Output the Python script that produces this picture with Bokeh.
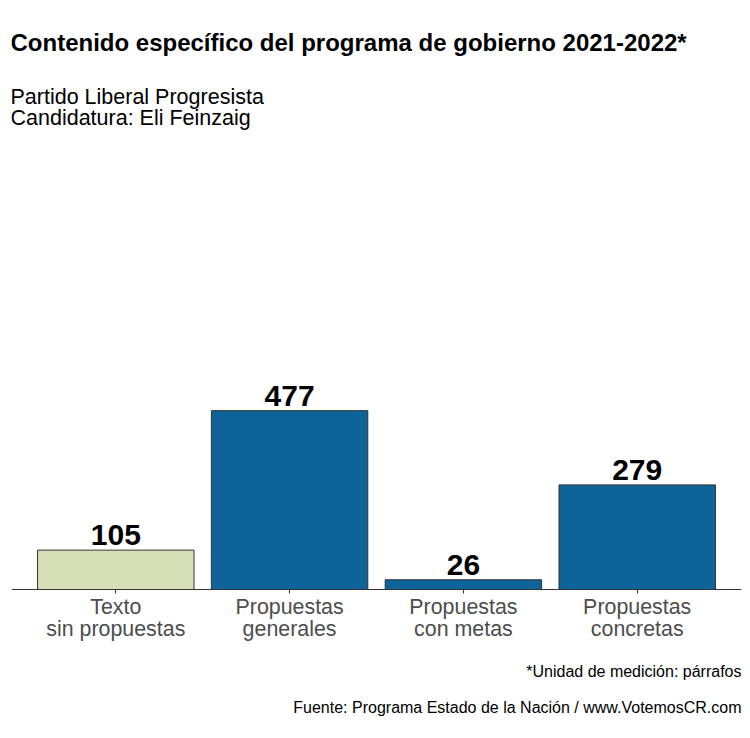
from bokeh.plotting import figure
from bokeh.models import ColumnDataSource, FactorRange, Range1d, CategoricalAxis, Label
from bokeh.core.properties import value
from bokeh.embed import file_html
from bokeh.resources import INLINE

# ---- data ----
categories = ["Texto\nsin propuestas", "Propuestas\ngenerales", "Propuestas\ncon metas", "Propuestas\nconcretas"]
counts = [105, 477, 26, 279]
bar_colors = ["#d7dfb7", "#0e6399", "#0e6399", "#0e6399"]

title_text = "Contenido específico del programa de gobierno 2021-2022*"
subtitle_lines = ["Partido Liberal Progresista", "Candidatura: Eli Feinzaig"]
note_text = "*Unidad de medición: párrafos"
source_text = "Fuente: Programa Estado de la Nación / www.VotemosCR.com"

FONT = "Liberation Sans"

src = ColumnDataSource(dict(cat=categories, val=counts, color=bar_colors,
                            label=[str(v) for v in counts]))

W, H = 742, 730
p = figure(width=W, height=H, output_backend="svg", toolbar_location=None,
           x_range=FactorRange(factors=categories, range_padding=0.05),
           y_range=Range1d(-376, 1570.7),
           x_axis_location=None, y_axis_location=None,
           min_border_left=11, min_border_right=1, min_border_top=0, min_border_bottom=0)
p.outline_line_color = None
p.background_fill_color = "white"
p.border_fill_color = "white"
p.grid.visible = False

p.vbar(x="cat", top="val", width=0.9, source=src, fill_color="color",
       line_color="#333333", line_width=1)

p.text(x="cat", y="val", text="label", source=src, text_align="center",
       text_baseline="alphabetic", y_offset=-15, text_font=value(FONT),
       text_font_style="bold", text_font_size="30px", text_color="black")

ax = CategoricalAxis(fixed_location=0)
ax.axis_line_color = "#333333"
ax.axis_line_width = 1.2
ax.major_tick_line_color = "#333333"
ax.major_tick_in = 0
ax.major_tick_out = 4
ax.minor_tick_out = 0
ax.major_label_standoff = 1
ax.major_label_text_font = FONT
ax.major_label_text_font_size = "21.4px"
ax.major_label_text_color = "#4d4d4d"
ax.major_label_text_line_height = 0.95
p.add_layout(ax, "below")

p.add_layout(Label(x=-1, y=688, x_units="screen", y_units="screen", text=title_text,
                   text_font=FONT, text_font_style="bold", text_font_size="24px",
                   text_baseline="alphabetic", text_align="left", text_color="black"))
for i, line in enumerate(subtitle_lines):
    p.add_layout(Label(x=-1, y=634 - 21 * i, x_units="screen", y_units="screen", text=line,
                       text_font=FONT, text_font_size="21.5px",
                       text_baseline="alphabetic", text_align="left", text_color="black"))
p.add_layout(Label(x=730, y=59, x_units="screen", y_units="screen", text=note_text,
                   text_font=FONT, text_font_size="16px",
                   text_baseline="alphabetic", text_align="right", text_color="black"))
p.add_layout(Label(x=730, y=23, x_units="screen", y_units="screen", text=source_text,
                   text_font=FONT, text_font_size="16px",
                   text_baseline="alphabetic", text_align="right", text_color="black"))

open("out.html", "w").write(file_html(p, INLINE))
